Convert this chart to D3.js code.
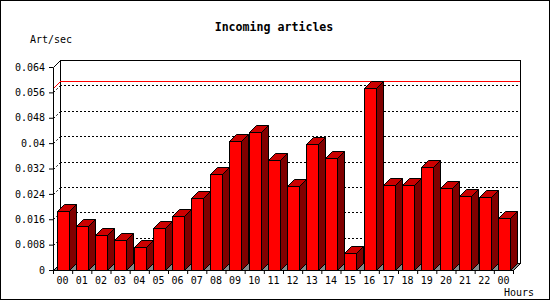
<!DOCTYPE html>
<html>
<head>
<meta charset="utf-8">
<script src="https://cdn.jsdelivr.net/npm/d3@7"></script>
<style>
html,body{margin:0;padding:0;background:#fff;}
svg{display:block;}
text{font-family:"DejaVu Sans Mono",monospace;}
</style>
</head>
<body>
<svg id="chart" width="550" height="300"></svg>
<script>
const hours = ["00","01","02","03","04","05","06","07","08","09","10","11","12","13","14","15","16","17","18","19","20","21","22","00"];
const articlesPerSec = [0.0186,0.0138,0.0109,0.0094,0.0072,0.0131,0.0169,0.0226,0.0302,0.0406,0.0434,0.0346,0.0265,0.0396,0.0352,0.0053,0.0573,0.0267,0.0267,0.0325,0.0259,0.0233,0.0230,0.0163];
const yTicks = [0,0.008,0.016,0.024,0.032,0.04,0.048,0.056,0.064];
const yTickLabels = ["0","0.008","0.016","0.024","0.032","0.04","0.048","0.056","0.064"];
const title = "Incoming articles";
const yTitle = "Art/sec";
const xTitle = "Hours";

const svg = d3.select("#chart");
const W = 550, H = 300;
const L = 53, R = 513, T = 67, B = 270, D = 7;

svg.append("rect").attr("x",0.5).attr("y",0.5).attr("width",W-1).attr("height",H-1)
  .attr("fill","#fff").attr("stroke","#000");

const x = d3.scaleBand().domain(d3.range(hours.length)).range([L,R]).padding(0);
const xb = d3.scaleLinear().domain([0,hours.length]).range([L,R]);
const y = d3.scaleLinear().domain([0,0.064]).range([B,T]);

const g = svg.append("g");
// back wall
g.append("rect").attr("x",L+D+0.5).attr("y",T-D+0.5).attr("width",R-L).attr("height",B-T)
  .attr("fill","#fff").attr("stroke","#000").attr("shape-rendering","crispEdges");
// grid lines
const grid = yTicks.filter(v => v>0 && v<0.064);
g.selectAll(".gl").data(grid).join("line").attr("class","gl")
  .attr("x1",L+D).attr("x2",R+D)
  .attr("y1",d=>Math.round(y(d))-D+0.5).attr("y2",d=>Math.round(y(d))-D+0.5)
  .attr("stroke","#000").attr("stroke-dasharray","2,2").attr("shape-rendering","crispEdges");
g.selectAll(".gd").data(grid).join("line").attr("class","gd")
  .attr("x1",L+0.5).attr("x2",L+D+0.5)
  .attr("y1",d=>Math.round(y(d))+0.5).attr("y2",d=>Math.round(y(d))-D+0.5)
  .attr("stroke","#000").attr("stroke-dasharray","2,2");
// max line
const maxV = d3.max(articlesPerSec);
const ym = Math.round(y(maxV));
g.append("line").attr("x1",L+D).attr("x2",R+D).attr("y1",ym-D+0.5).attr("y2",ym-D+0.5)
  .attr("stroke","#f00").attr("shape-rendering","crispEdges");
g.append("line").attr("x1",L+0.5).attr("x2",L+D+0.5).attr("y1",ym+0.5).attr("y2",ym-D+0.5)
  .attr("stroke","#f00");
// top-left diagonal
g.append("line").attr("x1",L+0.5).attr("x2",L+D+0.5).attr("y1",T+0.5).attr("y2",T-D+0.5).attr("stroke","#000");
// floor
g.append("path").attr("d",`M${L+0.5},${B+0.5}L${R+0.5},${B+0.5}L${R+D+0.5},${B-D+0.5}L${L+D+0.5},${B-D+0.5}Z`)
  .attr("fill","#888").attr("stroke","#000");

// axes
const yAxis = d3.axisLeft(y).tickValues(yTicks).tickSize(4).tickSizeOuter(0).tickPadding(4)
  .tickFormat((d,i)=>yTickLabels[i]);
const ya = svg.append("g").attr("transform",`translate(${L},0)`).call(yAxis);
ya.selectAll("text").attr("font-family","DejaVu Sans Mono").attr("font-size",10).attr("fill","#000");

const xAxisTicks = d3.axisBottom(xb).tickValues(d3.range(hours.length+1)).tickSize(4).tickSizeOuter(0).tickFormat("");
svg.append("g").attr("transform",`translate(0,${B})`).call(xAxisTicks);
const xAxisLabels = d3.axisBottom(x).tickSize(0).tickPadding(7).tickFormat(i=>hours[i]);
const xa = svg.append("g").attr("transform",`translate(0,${B})`).call(xAxisLabels);
xa.select(".domain").remove();
xa.selectAll("text").attr("font-family","DejaVu Sans Mono").attr("font-size",10).attr("fill","#000");

// bars
const bw = x.bandwidth();
const bars = svg.append("g").selectAll("g").data(articlesPerSec).join("g");
bars.each(function(v,i){
  const s = d3.select(this);
  const x0 = Math.round(x(i) + 0.2*bw) + 0.5;
  const w = Math.round(0.6*bw);
  const yt = Math.round(y(v)) + 0.5;
  const y0 = B + 0.5;
  s.append("path").attr("d",`M${x0+w},${yt}L${x0+w+D},${yt-D}L${x0+w+D},${y0-D}L${x0+w},${y0}Z`)
    .attr("fill","#800000").attr("stroke","#000");
  s.append("path").attr("d",`M${x0},${yt}L${x0+D},${yt-D}L${x0+w+D},${yt-D}L${x0+w},${yt}Z`)
    .attr("fill","#cc0000").attr("stroke","#000");
  s.append("rect").attr("x",x0).attr("y",yt).attr("width",w).attr("height",y0-yt)
    .attr("fill","#ff0000").attr("stroke","#000");
});

// titles
svg.append("text").attr("x",274).attr("y",31).attr("text-anchor","middle")
  .attr("font-weight","bold").attr("font-size",11.6).text(title);
svg.append("text").attr("x",30).attr("y",43).attr("font-size",10).text(yTitle);
svg.append("text").attr("x",504).attr("y",296).attr("font-size",10).text(xTitle);
</script>
</body>
</html>
